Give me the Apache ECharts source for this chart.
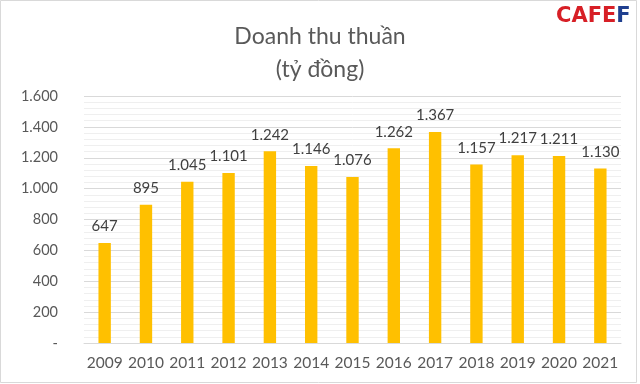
<!DOCTYPE html>
<html><head><meta charset="utf-8">
<script src="https://cdn.jsdelivr.net/npm/echarts@6/dist/echarts.min.js"></script>
<style>html,body{margin:0;padding:0;background:#fff}#c{width:640px;height:384px}</style>
</head><body><div id="c"></div>
<script>
const categories = ['2009','2010','2011','2012','2013','2014','2015','2016','2017','2018','2019','2020','2021'];
const revenue = [647, 895, 1045, 1101, 1242, 1146, 1076, 1262, 1367, 1157, 1217, 1211, 1130];
const yTicks = [0, 200, 400, 600, 800, 1000, 1200, 1400, 1600];

function fmt(v){
  if (v === 0) return '-';
  return String(v).replace(/\B(?=(\d{3})+(?!\d))/g, '.');
}
const chart = echarts.init(document.getElementById('c'));
chart.setOption({
  backgroundColor: '#fff',
  animation: false,
  title: {
    text: 'Doanh thu thuần\n(tỷ đồng)',
    left: 'center', top: 15,
    textStyle: { fontFamily: 'Lato', fontWeight: 'normal', fontSize: 23, color: '#595959', lineHeight: 33 }
  },
  grid: { left: 84, right: 19, top: 96, bottom: 41 },
  xAxis: {
    type: 'category', data: categories,
    axisLine: { lineStyle: { color: '#d9d9d9' } },
    axisTick: { show: false },
    axisLabel: { interval: 0, fontFamily: 'Lato', fontSize: 15.5, color: '#595959', margin: 12 }
  },
  yAxis: {
    type: 'value', min: yTicks[0], max: yTicks[yTicks.length-1], interval: 200,
    axisLine: { show: false }, axisTick: { show: false },
    axisLabel: { fontFamily: 'Lato', fontSize: 14.5, color: '#595959', margin: 26, formatter: fmt },
    splitLine: { lineStyle: { color: '#d9d9d9' } },
    minorTick: { show: false, splitNumber: 5 },
    minorSplitLine: { show: true, lineStyle: { color: '#efefef' } }
  },
  series: [{
    type: 'bar', data: revenue, barWidth: '30%',
    itemStyle: { color: '#FFC000' },
    label: { show: true, position: 'top', distance: 9, fontFamily: 'Lato', fontSize: 15, color: '#404040', formatter: p => fmt(p.value) }
  }],
  graphic: [
    { type: 'rect', shape: { x: 0.5, y: 0.5, width: 636, height: 382 }, style: { fill: 'none', stroke: '#d9d9d9', lineWidth: 1 }, silent: true },
    { type: 'text', left: 556, top: 6, style: {
      text: '{r|CAFE}{b|F}',
      rich: {
        r: { fontFamily: 'DejaVu Sans', fontWeight: 'bold', fontSize: 21, fill: '#d71f26' },
        b: { fontFamily: 'DejaVu Sans', fontWeight: 'bold', fontSize: 21, fill: '#1f3f8f' }
      }
    } }
  ]
});
</script></body></html>
